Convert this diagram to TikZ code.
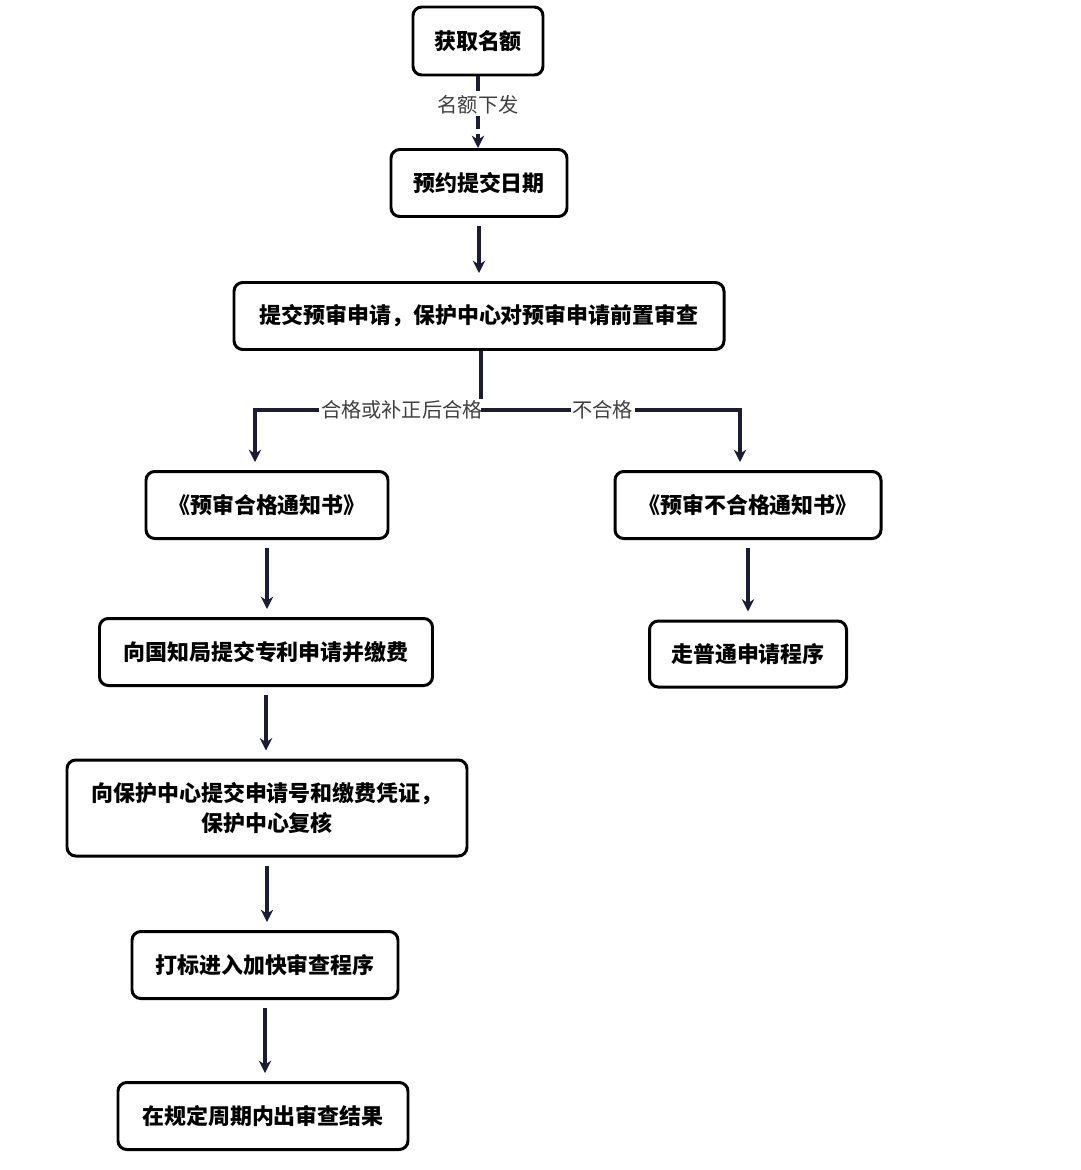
\documentclass[tikz,border=0pt]{standalone}
\usepackage{fontspec}
\setmainfont{Noto Sans CJK SC}
\usetikzlibrary{arrows.meta}
\definecolor{navy}{HTML}{1C1C33}
\newcommand{\px}{0.02cm}

\begin{document}
\begin{tikzpicture}[x=\px, y=-\px,
    box/.style={draw=black, line width=1.7pt, rounded corners=5pt, inner sep=0pt, font=\fontsize{12.5}{17}\selectfont\bfseries, align=center},
    arr/.style={draw=navy, line width=1.8pt, -{Stealth[length=7pt,width=7pt]}},
    lbl/.style={font=\fontsize{11.5}{13}\selectfont, text=black!75, fill=white, inner sep=1pt}]
    \useasboundingbox (0,0) rectangle (1080,1170);
    % main column
    \node[box, minimum width=130*\px, minimum height=68*\px] (get) at (478,41) {获取名额};
    \node[box, minimum width=176*\px, minimum height=67*\px] (date) at (479,183) {预约提交日期};
    \node[box, minimum width=490*\px, minimum height=67*\px] (pre) at (479,316) {提交预审申请，保护中心对预审申请前置审查};
    \node[box, minimum width=242*\px, minimum height=67*\px] (ok) at (267,505) {《预审合格通知书》};
    \node[box, minimum width=266*\px, minimum height=67*\px] (nok) at (748,505) {《预审不合格通知书》};
    \node[box, minimum width=333*\px, minimum height=67*\px] (cnipa) at (266,652) {向国知局提交专利申请并缴费};
    \node[box, minimum width=197*\px, minimum height=66*\px] (normal) at (748,654) {走普通申请程序};
    \node[box, minimum width=400*\px, minimum height=96*\px] (check) at (267,808) {向保护中心提交申请号和缴费凭证，\\保护中心复核};
    \node[box, minimum width=266*\px, minimum height=67*\px] (mark) at (265,965) {打标进入加快审查程序};
    \node[box, minimum width=290*\px, minimum height=67*\px] (result) at (263,1116) {在规定周期内出审查结果};

    % connectors
    \draw[arr, dash pattern=on 8pt off 3pt] (get) -- node[lbl, pos=0.4] {名额下发} (get |- date.north);
    \draw[arr] ([yshift=-8*\px]date.south) -- ([yshift=8*\px]date.south |- pre.north);
    \coordinate (split) at (481,410);
    \coordinate (left) at (255,410);
    \coordinate (right) at (740,410);
    \draw[navy, line width=1.8pt] (pre.south -| split) -- (split);
    \draw[arr] (split) -- node[lbl, pos=0.35] {合格或补正后合格} (left) -- ([yshift=8*\px]ok.north -| left);
    \draw[arr] (split) -- node[lbl, pos=0.47] {不合格} (right) -- ([yshift=8*\px]nok.north -| right);
    \draw[arr] ([yshift=-8*\px]ok.south) -- ([yshift=8*\px]ok.south |- cnipa.north);
    \draw[arr] ([yshift=-8*\px]nok.south) -- ([yshift=8*\px]nok.south |- normal.north);
    \draw[arr] ([yshift=-8*\px]cnipa.south) -- ([yshift=8*\px]cnipa.south |- check.north);
    \draw[arr] ([yshift=-8*\px]check.south) -- ([yshift=8*\px]check.south |- mark.north);
    \draw[arr] ([yshift=-8*\px]mark.south) -- ([yshift=8*\px]mark.south |- result.north);
\end{tikzpicture}
\end{document}
